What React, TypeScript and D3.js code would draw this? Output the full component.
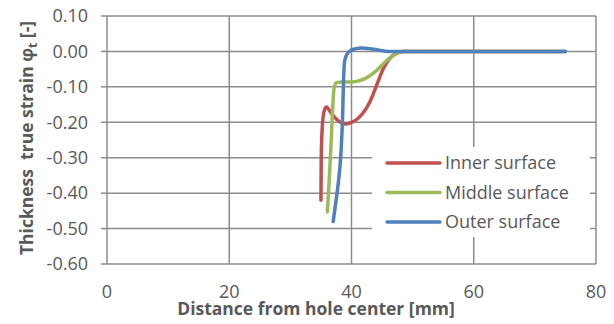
import * as d3 from 'd3';

// distance from hole center [mm] vs thickness true strain
const innerSurface: [number, number][] = [
  [35.0, -0.42], [35.05, -0.3], [35.2, -0.22], [35.5, -0.17], [35.9, -0.157],
  [36.6, -0.172], [37.6, -0.192], [38.8, -0.205], [40.0, -0.2], [41.0, -0.19],
  [41.7, -0.178], [43.0, -0.143], [44.1, -0.096], [45.2, -0.049], [46.8, -0.011],
  [48.5, 0], [75, 0],
];
const middleSurface: [number, number][] = [
  [36.05, -0.453], [36.3, -0.38], [36.6, -0.28], [36.9, -0.17], [37.1, -0.11],
  [37.5, -0.088], [38.5, -0.086], [40.0, -0.086], [41.2, -0.083], [42.5, -0.074],
  [44.1, -0.054], [45.8, -0.025], [47.4, -0.005], [48.5, 0], [75, 0],
];
const outerSurface: [number, number][] = [
  [37.0, -0.48], [37.4, -0.43], [37.85, -0.37], [38.3, -0.28], [38.55, -0.18],
  [38.7, -0.08], [38.9, -0.025], [39.5, -0.002], [40.6, 0.0076], [41.7, 0.01],
  [43.6, 0.006], [46.3, 0], [75, 0],
];

const seriesNames = ['Inner surface', 'Middle surface', 'Outer surface'];
const seriesColors = ['#C0504D', '#9BBB59', '#4F81BD'];
const xTicks = [0, 20, 40, 60, 80];
const yTicks = [0.1, 0, -0.1, -0.2, -0.3, -0.4, -0.5, -0.6];

const W = 614;
const H = 324;
const left = 107, right = 596, top = 16, bottom = 264;
const gridColor = '#8c8c8c';
const textColor = '#595959';
const font = '"Open Sans", sans-serif';

export default function App() {
  const x = d3.scaleLinear().domain([0, 80]).range([left, right]);
  const y = d3.scaleLinear().domain([-0.6, 0.1]).range([bottom, top]);
  const line = d3.line<[number, number]>()
    .x(d => x(d[0]))
    .y(d => y(d[1]))
    .curve(d3.curveMonotoneX);

  const series = [innerSurface, middleSurface, outerSurface];
  const legendX = 372, legendY = 147;

  return (
    <svg width={W} height={H} style={{ position: 'fixed', left: 0, top: 0, background: '#fff' }}
      fontFamily={font}>
      {/* grid */}
      {yTicks.map(t => (
        <line key={'gy' + t} x1={left} x2={right} y1={y(t)} y2={y(t)} stroke={gridColor} strokeWidth={1.5} />
      ))}
      {xTicks.map(t => (
        <line key={'gx' + t} x1={x(t)} x2={x(t)} y1={top} y2={bottom} stroke={gridColor} strokeWidth={1.5} />
      ))}
      {/* y tick marks */}
      {yTicks.map(t => (
        <line key={'ty' + t} x1={left - 6} x2={left} y1={y(t)} y2={y(t)} stroke={gridColor} strokeWidth={1.5} />
      ))}
      {/* y labels */}
      {yTicks.map(t => (
        <text key={'ly' + t} x={88} y={y(t)} dy="0.35em" textAnchor="end" fontSize={18} fill={textColor}>
          {t.toFixed(2).replace('-0.00', '0.00')}
        </text>
      ))}
      {xTicks.map(t => (
        <text key={'lx' + t} x={x(t)} y={292} dy="0.35em" textAnchor="middle" fontSize={18} fill={textColor}>
          {t}
        </text>
      ))}

      {/* legend box hides grid */}
      <rect x={legendX} y={legendY} width={218} height={90} fill="#fff" />

      {series.map((s, i) => (
        <path key={seriesNames[i]} d={line(s) ?? ''} fill="none" stroke={seriesColors[i]}
          strokeWidth={3.5} strokeLinejoin="round" strokeLinecap="round" />
      ))}

      {seriesNames.map((n, i) => (
        <g key={'leg' + n} transform={`translate(${legendX}, ${legendY + 16 + i * 29.5})`}>
          <line x1={15} x2={68} y1={0} y2={0} stroke={seriesColors[i]} strokeWidth={3.5} strokeLinecap="round" />
          <text x={73} y={0} dy="0.35em" fontSize={18} fill={textColor}>{n}</text>
        </g>
      ))}

      <text x={316} y={315} textAnchor="middle" fontSize={17.5} fontWeight="bold" fill={textColor}>
        Distance from hole center [mm]
      </text>
      <text transform={`translate(33, 138) rotate(-90)`} textAnchor="middle" fontSize={17.5}
        fontWeight="bold" fill={textColor}>
        {'Thickness \u00a0true strain φ'}<tspan fontSize={12} dy={4}>t</tspan><tspan dy={-4}> [-]</tspan>
      </text>
    </svg>
  );
}
